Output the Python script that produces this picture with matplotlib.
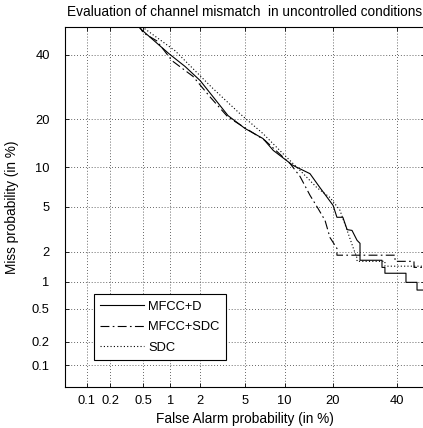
from statistics import NormalDist
import numpy as np
import matplotlib
matplotlib.use("Agg")
import matplotlib.pyplot as plt

plt.rcParams['font.family'] = ['Liberation Sans', 'DejaVu Sans']

# DET points, values in percent
fa_mfcc_d = [0.46, 0.97, 1.42, 2.0, 3.6, 5.0, 6.95, 8.3, 11.4, 14.7, 16.9, 20.1, 21.1, 22.7,
             23.9, 25.3, 26.8, 27.7, 27.7, 34.8, 34.8, 35.8, 35.8, 43.2, 43.2, 47.2, 47.2, 50]
miss_mfcc_d = [49.5, 40.3, 35.9, 31.2, 20.9, 17.7, 15.4, 12.96, 10.3, 9.0, 7.1, 5.15, 4.1, 4.1,
               3.2, 3.15, 2.56, 2.4, 1.65, 1.65, 1.40, 1.40, 1.22, 1.22, 0.98, 0.98, 0.81, 0.81]

fa_mfcc_sdc = [0.44, 0.50, 0.71, 1.04, 1.7, 2.5, 3.6, 7.2, 10.9, 12.7, 14.7, 16.4, 18.1, 19.3,
               21.1, 21.1, 39.3, 39.3, 46.1, 46.1, 50]
miss_mfcc_sdc = [51, 47.9, 45.0, 37.9, 32.6, 26.0, 20.5, 15.0, 10.6, 8.6, 6.2, 4.9, 3.85, 2.72,
                 2.15, 1.85, 1.85, 1.61, 1.61, 1.40, 1.40]

fa_sdc = [0.52, 1.12, 2.58, 4.55, 6.95, 9.7, 12.7, 16.2, 19.3, 21.9, 23.9, 25.6, 26.8, 26.8,
          35.8, 35.8, 50]
miss_sdc = [49.4, 41.4, 29.0, 21.4, 16.5, 12.4, 9.5, 7.1, 5.96, 4.7, 3.15, 2.2, 1.73, 1.61,
            1.61, 1.44, 1.44]

tick_vals = [0.1, 0.2, 0.5, 1, 2, 5, 10, 20, 40]
tick_labels = ['0.1', '0.2', '0.5', '1', '2', '5', '10', '20', '40']

nd = NormalDist()
_fwd = np.vectorize(lambda v: nd.inv_cdf(min(max(v / 100.0, 1e-9), 1 - 1e-9)), otypes=[float])
_inv = np.vectorize(lambda z: nd.cdf(z) * 100.0, otypes=[float])

def fwd(v):
    return _fwd(np.asarray(v, dtype=float))

def inv(z):
    return _inv(np.asarray(z, dtype=float))

fig = plt.figure(figsize=(4.23, 4.28), dpi=100)
ax = fig.add_axes([65 / 423, 1 - 387 / 428, 359.7 / 423, 360 / 428])
ax.set_xscale('function', functions=(fwd, inv))
ax.set_yscale('function', functions=(fwd, inv))

ax.plot(fa_mfcc_d, miss_mfcc_d, color='black', lw=0.8, ls='-', label='MFCC+D')
ax.plot(fa_mfcc_sdc, miss_mfcc_sdc, color='black', lw=0.8, ls=(0, (8, 3, 1.5, 3)), label='MFCC+SDC')
ax.plot(fa_sdc, miss_sdc, color='black', lw=0.8, ls=(0, (1, 2)), label='SDC')

ax.set_xlim(0.05, 50)
ax.set_ylim(0.05, 50)
ax.set_xticks(tick_vals)
ax.set_xticklabels(tick_labels)
ax.set_yticks(tick_vals)
ax.set_yticklabels(tick_labels)
ax.minorticks_off()
ax.tick_params(direction='in', top=True, right=True, length=3, width=0.6,
               labelsize=9.3, pad=6, colors='black')
ax.tick_params(axis='y', pad=11)
ax.grid(True, ls=(0, (1, 2.5)), color='0.2', lw=0.6)
for s in ax.spines.values():
    s.set_linewidth(0.8)

ax.set_title('Evaluation of channel mismatch  in uncontrolled conditions', fontsize=9.8, pad=8)
ax.set_xlabel('False Alarm probability (in %)', fontsize=9.8, labelpad=3)
ax.set_ylabel('Miss probability (in %)', fontsize=9.8, labelpad=9)

leg = ax.legend(loc='lower left', bbox_to_anchor=(0.0806, 0.075), borderaxespad=0,
                fontsize=9.3, fancybox=False, framealpha=1, edgecolor='black',
                handlelength=3.4, handletextpad=0.3, labelspacing=0.65, borderpad=0.5)
leg.get_frame().set_linewidth(0.8)

fig.savefig('out.png', dpi=100)
